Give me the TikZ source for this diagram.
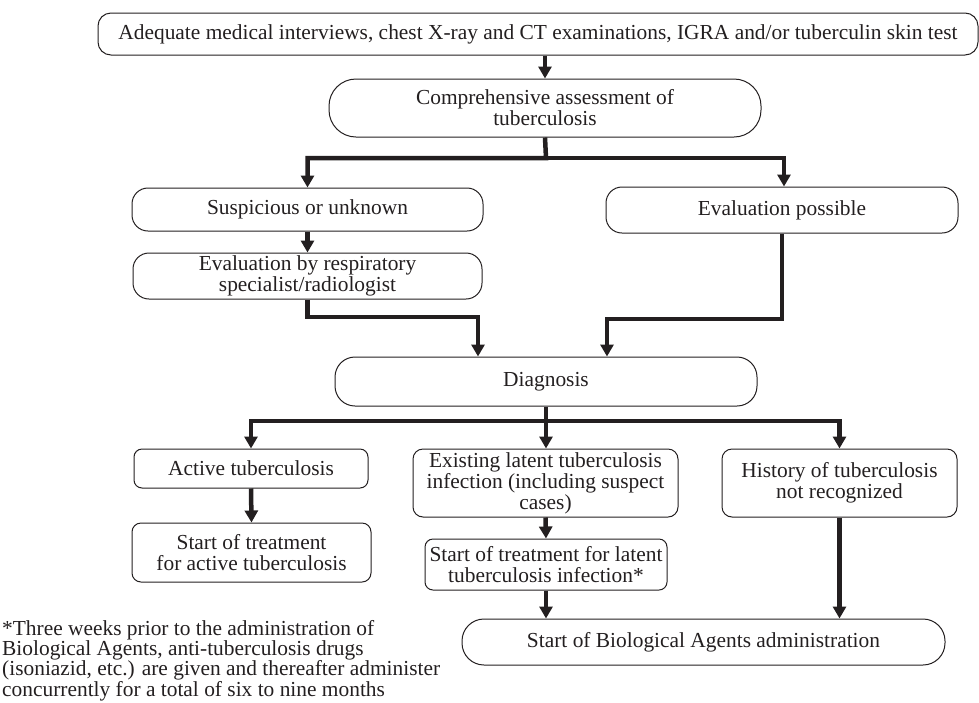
\documentclass[tikz,border=0pt]{standalone}
\usepackage{fontspec}
\setmainfont{Liberation Serif}
\usetikzlibrary{arrows.meta,positioning}
\definecolor{ink}{HTML}{231F20}

\begin{document}
\begin{tikzpicture}[x=1pt,y=-1pt,
	box/.style={draw=ink,line width=1pt,rounded corners=#1,align=center,inner sep=0pt,text=ink,
		font=\fontsize{21.4}{21}\selectfont},
	box/.default=10pt,
	flow/.style={draw=ink,line width=4.5pt,-{Triangle[width=13pt,length=12pt]}}]
	\useasboundingbox (0,0) rectangle (979,702);
	% boxes
	\node[box=13pt,minimum width=880pt,minimum height=42pt] (adeq) at (538,34)
		{Adequate medical interviews, chest X-ray and CT examinations, IGRA and/or tuberculin skin test};
	\node[box=27pt,minimum width=432pt,minimum height=58pt] (comp) at (545,108)
		{Comprehensive assessment of\\tuberculosis};
	\node[box=16pt,minimum width=351pt,minimum height=43pt] (susp) at (307.5,209.5) {Suspicious or unknown};
	\node[box=16pt,minimum width=349pt,minimum height=46pt] (resp) at (307.5,276)
		{Evaluation by respiratory\\specialist/radiologist};
	\node[box=16pt,minimum width=352pt,minimum height=46pt] (poss) at (782,210) {Evaluation possible};
	\node[box=20pt,minimum width=422pt,minimum height=49pt] (diag) at (546,381.5) {Diagnosis};
	\node[box=8pt,minimum width=234pt,minimum height=39pt] (active) at (251,468.5) {Active tuberculosis};
	\node[box=9pt,minimum width=239pt,minimum height=59pt] (treatA) at (251.5,552.5)
		{Start of treatment\\for active tuberculosis};
	\node[box=10pt,minimum width=265pt,minimum height=68pt] (latent) at (545.5,483)
		{Existing latent tuberculosis\\infection (including suspect\\cases)};
	\node[box=8pt,minimum width=242pt,minimum height=51pt] (treatL) at (546,564.5)
		{Start of treatment for latent\\tuberculosis infection*};
	\node[box=10pt,minimum width=235pt,minimum height=68pt] (hist) at (839.5,483)
		{History of tuberculosis\\not recognized};
	\node[box=22pt,minimum width=483pt,minimum height=46pt] (bio) at (703.5,642)
		{Start of Biological Agents administration};
	% footnote
	\node[anchor=north west,align=left,inner sep=0pt,text=ink,font=\fontsize{21.4}{20.3}\selectfont] (note) at (2,620)
		{*Three weeks prior to the administration of\\
		 Biological Agents, anti-tuberculosis drugs\\
		 (isoniazid, etc.) are given and thereafter administer\\
		 concurrently for a total of six to nine months};
	% branch points
	\coordinate (s1) at (546,158);
	\coordinate (jl) at (478,317);
	\coordinate (jr) at (607,319);
	\coordinate (s2) at (546,421);
	% connectors
	\draw[flow] (comp.north |- adeq.south) -- (comp.north);
	\draw[flow] (comp.south) -- (s1) -| (susp.north);
	\draw[flow] (s1) -| ([xshift=2pt]poss.north);
	\draw[flow] (susp.south) -- (resp.north);
	\draw[flow] (resp.south) |- (jl) -- (jl |- diag.north);
	\draw[flow] (poss.south) |- (jr) -- (jr |- diag.north);
	\draw[flow] (diag.south) -- (s2) -| (active.north);
	\draw[flow] (s2) -- (s2 |- latent.north);
	\draw[flow] (s2) -| (hist.north);
	\draw[flow] (active.south) -- (treatA.north);
	\draw[flow] (latent.south) -- (treatL.north);
	\draw[flow] (treatL.south) -- (treatL.south |- bio.north);
	\draw[flow] (hist.south) -- (hist.south |- bio.north);
\end{tikzpicture}
\end{document}
